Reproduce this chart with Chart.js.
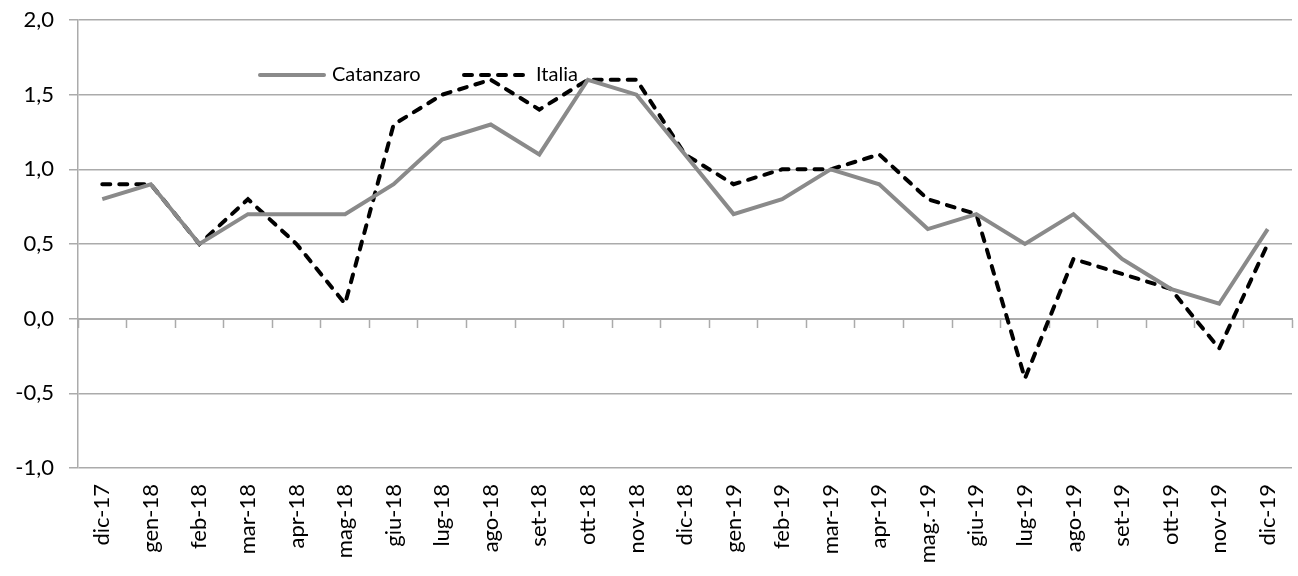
<!DOCTYPE html>
<html>
<head>
<meta charset="utf-8">
<script src="https://cdn.jsdelivr.net/npm/chart.js@4"></script>
<style>
  html, body { margin: 0; padding: 0; background: #fff; }
  #wrap { width: 1298px; height: 576px; position: relative; }
</style>
</head>
<body>
<div id="wrap"><canvas id="chart" width="1298" height="576"></canvas></div>
<script>
const months = ['dic-17', 'gen-18', 'feb-18', 'mar-18', 'apr-18', 'mag-18', 'giu-18', 'lug-18', 'ago-18',
  'set-18', 'ott-18', 'nov-18', 'dic-18', 'gen-19', 'feb-19', 'mar-19', 'apr-19', 'mag.-19', 'giu-19',
  'lug-19', 'ago-19', 'set-19', 'ott-19', 'nov-19', 'dic-19'];
const catanzaro = [0.8, 0.9, 0.5, 0.7, 0.7, 0.7, 0.9, 1.2, 1.3, 1.1, 1.6, 1.5, 1.1,
  0.7, 0.8, 1.0, 0.9, 0.6, 0.7, 0.5, 0.7, 0.4, 0.2, 0.1, 0.6];
const italia = [0.9, 0.9, 0.5, 0.8, 0.5, 0.1, 1.3, 1.5, 1.6, 1.4, 1.6, 1.6, 1.1,
  0.9, 1.0, 1.0, 1.1, 0.8, 0.7, -0.4, 0.4, 0.3, 0.2, -0.2, 0.5];
const yMin = -1.0, yMax = 2.0, yStep = 0.5;

const GRID = '#ababab';
const FONT = 'Lato, "Open Sans", sans-serif';

// legend drawn inside the plot, like the original
const insideLegend = {
    id: 'insideLegend',
    afterDatasetsDraw(chart) {
        const ctx = chart.ctx;
        const spots = [{ x: 258, y: 75 }, { x: 462, y: 75 }];
        ctx.save();
        chart.data.datasets.forEach((ds, i) => {
            const p = spots[i];
            ctx.beginPath();
            ctx.strokeStyle = ds.borderColor;
            ctx.lineWidth = ds.borderWidth;
            ctx.lineCap = 'round';
            ctx.setLineDash(ds.borderDash || []);
            ctx.moveTo(p.x + 2, p.y);
            ctx.lineTo(p.x + 66, p.y);
            ctx.stroke();
            ctx.setLineDash([]);
            ctx.fillStyle = '#000';
            ctx.font = '20px ' + FONT;
            ctx.textBaseline = 'middle';
            ctx.fillText(ds.label, p.x + 74, p.y);
        });
        ctx.restore();
    }
};

new Chart(document.getElementById('chart'), {
    type: 'line',
    data: {
        labels: months,
        datasets: [
            {
                label: 'Catanzaro',
                data: catanzaro,
                borderColor: '#8a8a8a',
                borderWidth: 4,
                pointRadius: 0,
                tension: 0,
                xAxisID: 'x'
            },
            {
                label: 'Italia',
                data: italia,
                borderColor: '#000000',
                borderWidth: 4,
                borderDash: [8, 9],
                borderCapStyle: 'round',
                pointRadius: 0,
                tension: 0,
                xAxisID: 'x'
            }
        ]
    },
    options: {
        responsive: false,
        animation: false,
        layout: { padding: { top: 20, right: 6, left: 0, bottom: 0 } },
        plugins: {
            legend: { display: false },
            tooltip: { enabled: false }
        },
        scales: {
            x: {
                type: 'category',
                position: 'bottom',
                offset: true,
                grid: { display: false, drawTicks: false },
                border: { display: false },
                ticks: {
                    color: '#000',
                    font: { family: FONT, size: 22 },
                    maxRotation: 90,
                    minRotation: 90,
                    autoSkip: false,
                    padding: 16
                },
                afterFit(scale) {
                    scale.height = 108;
                    scale.paddingRight = 0;
                    scale.paddingLeft = 0;
                }
            },
            xZero: {
                type: 'category',
                labels: months,
                position: { y: 0 },
                offset: true,
                grid: {
                    offset: true,
                    drawOnChartArea: false,
                    drawTicks: true,
                    tickLength: 8,
                    tickWidth: 1.5,
                    color: GRID
                },
                border: { display: true, color: GRID, width: 2 },
                ticks: { display: false }
            },
            y: {
                min: yMin,
                max: yMax,
                grid: {
                    color: GRID,
                    lineWidth: 1.5,
                    tickLength: 9,
                    drawTicks: true
                },
                border: { display: true, color: GRID, width: 1.5 },
                ticks: {
                    stepSize: yStep,
                    color: '#000',
                    padding: 15,
                    font: { family: FONT, size: 22 },
                    callback: v => v.toFixed(1).replace('.', ',')
                },
                afterFit(scale) {
                    scale.width = 78;
                    scale.paddingTop = 0;
                    scale.paddingBottom = 0;
                }
            }
        }
    },
    plugins: [insideLegend]
});
</script>
</body>
</html>
